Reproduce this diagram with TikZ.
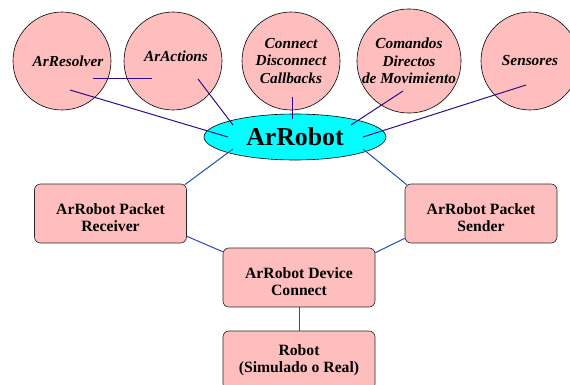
\documentclass[tikz,border=0pt]{standalone}
\usepackage{fontspec}
\setmainfont{Liberation Serif}
\usetikzlibrary{shapes.geometric,calc}
\definecolor{pinkfill}{RGB}{255,190,190}
\definecolor{ellfill}{RGB}{0,255,255}
\definecolor{topline}{RGB}{50,10,140}
\definecolor{botline}{RGB}{30,80,185}
\newcommand{\mytopstrut}{\rule{0pt}{19.5pt}}
\begin{document}
\begin{tikzpicture}[x=1pt,y=-1pt,
 circ/.style={circle,draw=black,fill=pinkfill,minimum size=98pt,inner sep=0pt,align=center,
   font=\fontsize{15.3}{17.5}\selectfont\bfseries\itshape,line width=0.6pt},
 robell/.style={ellipse,draw=black,fill=ellfill,minimum width=182pt,minimum height=46pt,inner sep=0pt,
   font=\fontsize{25.8}{28}\selectfont\bfseries,line width=0.6pt},
 box/.style={rectangle,rounded corners=6pt,draw=black!85,fill=pinkfill,minimum width=152pt,
   minimum height=59pt,align=center,font=\fontsize{15.7}{17}\selectfont\bfseries,line width=0.6pt},
 tl/.style={draw=topline,line width=1pt},
 bl/.style={draw=botline,line width=1pt}]
\useasboundingbox (0,0) rectangle (570,385);

\node[circ] (res) at (62,61) {\hspace*{12pt}ArResolver};
\node[circ] (act) at (173,61) {\hspace*{6pt}ArActions\\[-7pt]\mbox{}};
\node[circ] (con) at (291,61) {Connect\\Disconnect\\Callbacks};
\node[circ] (com) at (409,61) {Comandos\\Directos\\de Movimiento};
\node[circ] (sen) at (530,61) {Sensores};
\node[robell] (rob) at (295,137) {ArRobot};

\node[box] (rec) at (110.5,213.5) {\mytopstrut ArRobot Packet\\Receiver};
\node[box] (snd) at (481,213.5) {\mytopstrut ArRobot Packet\\Sender};
\node[box] (dev) at (299,277.5) {\mytopstrut ArRobot Device\\Connect};
\node[box] (rbt) at (299,360.5) {Robot\\(Simulado o Real)};

\draw[tl] ($(res)+(31,18)$) -- ($(act)+(-21,18)$);
\draw[tl] ($(res)+(8,29)$) -- ($(rob)+(-67,0)$);
\draw[tl] ($(act)+(25,18)$) -- ($(rob)+(-62,-12)$);
\draw[tl] ($(con)+(1,36)$) -- ($(rob)+(-3,-18)$);
\draw[tl] ($(com)+(-6,30)$) -- ($(rob)+(56,-12)$);
\draw[tl] ($(sen)+(-4,24)$) -- ($(rob)+(68,0)$);

\draw[bl] ($(rob)+(-62,12)$) -- ($(rec.north east)+(-2,1)$);
\draw[bl] ($(rob)+(68,12)$) -- ($(snd.north west)+(2,1)$);
\draw[bl] ($(rec.south east)+(0,-7)$) -- ($(dev.north west)+(0,4)$);
\draw[bl] ($(snd.south west)+(0,-5)$) -- ($(dev.north east)+(0,5)$);
\draw[bl] (dev.south) -- (rbt.north);
\end{tikzpicture}
\end{document}
